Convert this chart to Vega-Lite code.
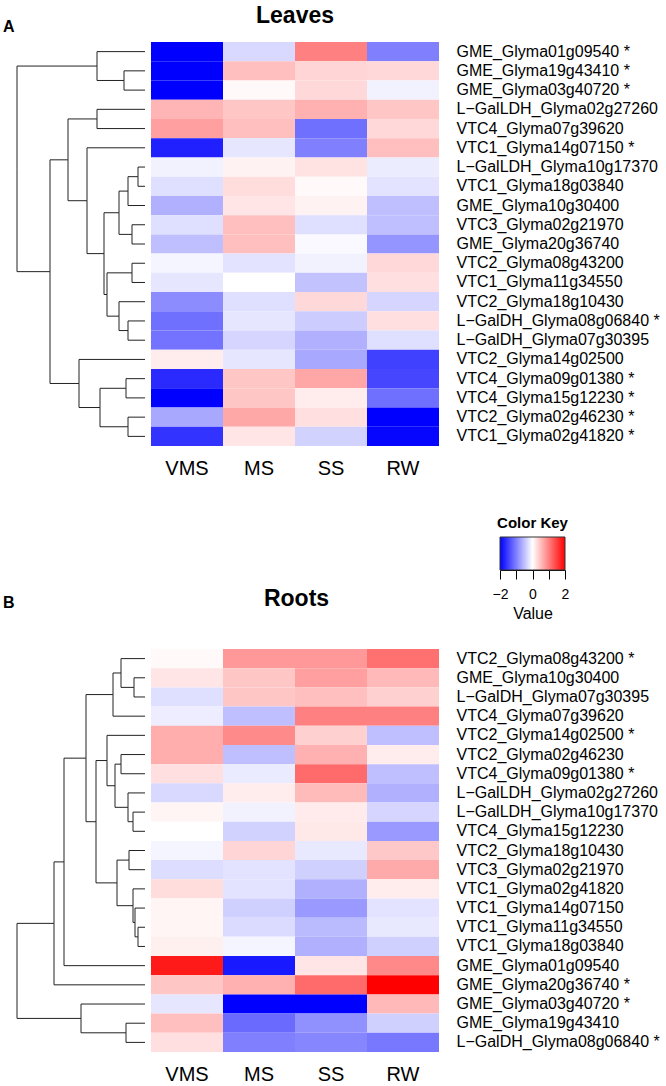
{
 "$schema": "https://vega.github.io/schema/vega-lite/v6.json",
 "padding": {"left": 3, "top": 5, "right": 2, "bottom": 2},
 "config": {"view": {"stroke": null}, "font": "Liberation Sans", "axis": {"labelColor": "#000", "titleColor": "#000", "grid": false}},
 "datasets": {
  "leaves": [
   {"g":"GME_Glyma01g09540 *","c":"VMS","v":-2},{"g":"GME_Glyma01g09540 *","c":"MS","v":-0.3},{"g":"GME_Glyma01g09540 *","c":"SS","v":1.0},{"g":"GME_Glyma01g09540 *","c":"RW","v":-1.0},
   {"g":"GME_Glyma19g43410 *","c":"VMS","v":-2},{"g":"GME_Glyma19g43410 *","c":"MS","v":0.5},{"g":"GME_Glyma19g43410 *","c":"SS","v":0.33},{"g":"GME_Glyma19g43410 *","c":"RW","v":0.3},
   {"g":"GME_Glyma03g40720 *","c":"VMS","v":-2},{"g":"GME_Glyma03g40720 *","c":"MS","v":0.05},{"g":"GME_Glyma03g40720 *","c":"SS","v":0.3},{"g":"GME_Glyma03g40720 *","c":"RW","v":-0.1},
   {"g":"L−GalLDH_Glyma02g27260","c":"VMS","v":0.58},{"g":"L−GalLDH_Glyma02g27260","c":"MS","v":0.45},{"g":"L−GalLDH_Glyma02g27260","c":"SS","v":0.62},{"g":"L−GalLDH_Glyma02g27260","c":"RW","v":0.45},
   {"g":"VTC4_Glyma07g39620","c":"VMS","v":0.75},{"g":"VTC4_Glyma07g39620","c":"MS","v":0.5},{"g":"VTC4_Glyma07g39620","c":"SS","v":-1.12},{"g":"VTC4_Glyma07g39620","c":"RW","v":0.3},
   {"g":"VTC1_Glyma14g07150 *","c":"VMS","v":-1.75},{"g":"VTC1_Glyma14g07150 *","c":"MS","v":-0.2},{"g":"VTC1_Glyma14g07150 *","c":"SS","v":-1.0},{"g":"VTC1_Glyma14g07150 *","c":"RW","v":0.5},
   {"g":"L−GalLDH_Glyma10g17370","c":"VMS","v":-0.1},{"g":"L−GalLDH_Glyma10g17370","c":"MS","v":0.1},{"g":"L−GalLDH_Glyma10g17370","c":"SS","v":0.22},{"g":"L−GalLDH_Glyma10g17370","c":"RW","v":-0.15},
   {"g":"VTC1_Glyma18g03840","c":"VMS","v":-0.25},{"g":"VTC1_Glyma18g03840","c":"MS","v":0.27},{"g":"VTC1_Glyma18g03840","c":"SS","v":0.05},{"g":"VTC1_Glyma18g03840","c":"RW","v":-0.22},
   {"g":"GME_Glyma10g30400","c":"VMS","v":-0.62},{"g":"GME_Glyma10g30400","c":"MS","v":0.2},{"g":"GME_Glyma10g30400","c":"SS","v":0.1},{"g":"GME_Glyma10g30400","c":"RW","v":-0.5},
   {"g":"VTC3_Glyma02g21970","c":"VMS","v":-0.25},{"g":"VTC3_Glyma02g21970","c":"MS","v":0.5},{"g":"VTC3_Glyma02g21970","c":"SS","v":-0.25},{"g":"VTC3_Glyma02g21970","c":"RW","v":-0.5},
   {"g":"GME_Glyma20g36740","c":"VMS","v":-0.5},{"g":"GME_Glyma20g36740","c":"MS","v":0.5},{"g":"GME_Glyma20g36740","c":"SS","v":-0.05},{"g":"GME_Glyma20g36740","c":"RW","v":-0.83},
   {"g":"VTC2_Glyma08g43200","c":"VMS","v":-0.08},{"g":"VTC2_Glyma08g43200","c":"MS","v":-0.22},{"g":"VTC2_Glyma08g43200","c":"SS","v":-0.1},{"g":"VTC2_Glyma08g43200","c":"RW","v":0.3},
   {"g":"VTC1_Glyma11g34550","c":"VMS","v":-0.2},{"g":"VTC1_Glyma11g34550","c":"MS","v":0},{"g":"VTC1_Glyma11g34550","c":"SS","v":-0.48},{"g":"VTC1_Glyma11g34550","c":"RW","v":0.25},
   {"g":"VTC2_Glyma18g10430","c":"VMS","v":-0.9},{"g":"VTC2_Glyma18g10430","c":"MS","v":-0.25},{"g":"VTC2_Glyma18g10430","c":"SS","v":0.3},{"g":"VTC2_Glyma18g10430","c":"RW","v":-0.33},
   {"g":"L−GalDH_Glyma08g06840 *","c":"VMS","v":-1.12},{"g":"L−GalDH_Glyma08g06840 *","c":"MS","v":-0.2},{"g":"L−GalDH_Glyma08g06840 *","c":"SS","v":-0.4},{"g":"L−GalDH_Glyma08g06840 *","c":"RW","v":0.25},
   {"g":"L−GalDH_Glyma07g30395","c":"VMS","v":-1.1},{"g":"L−GalDH_Glyma07g30395","c":"MS","v":-0.33},{"g":"L−GalDH_Glyma07g30395","c":"SS","v":-0.62},{"g":"L−GalDH_Glyma07g30395","c":"RW","v":-0.25},
   {"g":"VTC2_Glyma14g02500","c":"VMS","v":0.14},{"g":"VTC2_Glyma14g02500","c":"MS","v":-0.2},{"g":"VTC2_Glyma14g02500","c":"SS","v":-0.68},{"g":"VTC2_Glyma14g02500","c":"RW","v":-1.5},
   {"g":"VTC4_Glyma09g01380 *","c":"VMS","v":-1.67},{"g":"VTC4_Glyma09g01380 *","c":"MS","v":0.45},{"g":"VTC4_Glyma09g01380 *","c":"SS","v":0.7},{"g":"VTC4_Glyma09g01380 *","c":"RW","v":-1.45},
   {"g":"VTC4_Glyma15g12230 *","c":"VMS","v":-2},{"g":"VTC4_Glyma15g12230 *","c":"MS","v":0.45},{"g":"VTC4_Glyma15g12230 *","c":"SS","v":0.14},{"g":"VTC4_Glyma15g12230 *","c":"RW","v":-1.12},
   {"g":"VTC2_Glyma02g46230 *","c":"VMS","v":-0.68},{"g":"VTC2_Glyma02g46230 *","c":"MS","v":0.68},{"g":"VTC2_Glyma02g46230 *","c":"SS","v":0.25},{"g":"VTC2_Glyma02g46230 *","c":"RW","v":-2},
   {"g":"VTC1_Glyma02g41820 *","c":"VMS","v":-1.6},{"g":"VTC1_Glyma02g41820 *","c":"MS","v":0.2},{"g":"VTC1_Glyma02g41820 *","c":"SS","v":-0.35},{"g":"VTC1_Glyma02g41820 *","c":"RW","v":-1.95}
  ],
  "roots": [
   {"g":"VTC2_Glyma08g43200 *","c":"VMS","v":0.05},{"g":"VTC2_Glyma08g43200 *","c":"MS","v":0.8},{"g":"VTC2_Glyma08g43200 *","c":"SS","v":0.8},{"g":"VTC2_Glyma08g43200 *","c":"RW","v":1.12},
   {"g":"GME_Glyma10g30400","c":"VMS","v":0.2},{"g":"GME_Glyma10g30400","c":"MS","v":0.45},{"g":"GME_Glyma10g30400","c":"SS","v":0.75},{"g":"GME_Glyma10g30400","c":"RW","v":0.55},
   {"g":"L−GalDH_Glyma07g30395","c":"VMS","v":-0.25},{"g":"L−GalDH_Glyma07g30395","c":"MS","v":0.45},{"g":"L−GalDH_Glyma07g30395","c":"SS","v":0.5},{"g":"L−GalDH_Glyma07g30395","c":"RW","v":0.37},
   {"g":"VTC4_Glyma07g39620","c":"VMS","v":-0.14},{"g":"VTC4_Glyma07g39620","c":"MS","v":-0.5},{"g":"VTC4_Glyma07g39620","c":"SS","v":1.0},{"g":"VTC4_Glyma07g39620","c":"RW","v":1.0},
   {"g":"VTC2_Glyma14g02500 *","c":"VMS","v":0.64},{"g":"VTC2_Glyma14g02500 *","c":"MS","v":0.92},{"g":"VTC2_Glyma14g02500 *","c":"SS","v":0.37},{"g":"VTC2_Glyma14g02500 *","c":"RW","v":-0.5},
   {"g":"VTC2_Glyma02g46230","c":"VMS","v":0.64},{"g":"VTC2_Glyma02g46230","c":"MS","v":-0.5},{"g":"VTC2_Glyma02g46230","c":"SS","v":0.62},{"g":"VTC2_Glyma02g46230","c":"RW","v":0.14},
   {"g":"VTC4_Glyma09g01380 *","c":"VMS","v":0.25},{"g":"VTC4_Glyma09g01380 *","c":"MS","v":-0.16},{"g":"VTC4_Glyma09g01380 *","c":"SS","v":1.17},{"g":"VTC4_Glyma09g01380 *","c":"RW","v":-0.5},
   {"g":"L−GalLDH_Glyma02g27260","c":"VMS","v":-0.3},{"g":"L−GalLDH_Glyma02g27260","c":"MS","v":0.14},{"g":"L−GalLDH_Glyma02g27260","c":"SS","v":0.54},{"g":"L−GalLDH_Glyma02g27260","c":"RW","v":-0.62},
   {"g":"L−GalLDH_Glyma10g17370","c":"VMS","v":0.08},{"g":"L−GalLDH_Glyma10g17370","c":"MS","v":-0.1},{"g":"L−GalLDH_Glyma10g17370","c":"SS","v":0.16},{"g":"L−GalLDH_Glyma10g17370","c":"RW","v":-0.33},
   {"g":"VTC4_Glyma15g12230","c":"VMS","v":0},{"g":"VTC4_Glyma15g12230","c":"MS","v":-0.35},{"g":"VTC4_Glyma15g12230","c":"SS","v":0.18},{"g":"VTC4_Glyma15g12230","c":"RW","v":-0.8},
   {"g":"VTC2_Glyma18g10430","c":"VMS","v":-0.08},{"g":"VTC2_Glyma18g10430","c":"MS","v":0.33},{"g":"VTC2_Glyma18g10430","c":"SS","v":-0.18},{"g":"VTC2_Glyma18g10430","c":"RW","v":0.43},
   {"g":"VTC3_Glyma02g21970","c":"VMS","v":-0.27},{"g":"VTC3_Glyma02g21970","c":"MS","v":-0.22},{"g":"VTC3_Glyma02g21970","c":"SS","v":-0.37},{"g":"VTC3_Glyma02g21970","c":"RW","v":0.67},
   {"g":"VTC1_Glyma02g41820","c":"VMS","v":0.27},{"g":"VTC1_Glyma02g41820","c":"MS","v":-0.22},{"g":"VTC1_Glyma02g41820","c":"SS","v":-0.62},{"g":"VTC1_Glyma02g41820","c":"RW","v":0.14},
   {"g":"VTC1_Glyma14g07150","c":"VMS","v":0.08},{"g":"VTC1_Glyma14g07150","c":"MS","v":-0.37},{"g":"VTC1_Glyma14g07150","c":"SS","v":-0.8},{"g":"VTC1_Glyma14g07150","c":"RW","v":-0.22},
   {"g":"VTC1_Glyma11g34550","c":"VMS","v":0.08},{"g":"VTC1_Glyma11g34550","c":"MS","v":-0.28},{"g":"VTC1_Glyma11g34550","c":"SS","v":-0.54},{"g":"VTC1_Glyma11g34550","c":"RW","v":-0.18},
   {"g":"VTC1_Glyma18g03840","c":"VMS","v":0.12},{"g":"VTC1_Glyma18g03840","c":"MS","v":-0.08},{"g":"VTC1_Glyma18g03840","c":"SS","v":-0.62},{"g":"VTC1_Glyma18g03840","c":"RW","v":-0.37},
   {"g":"GME_Glyma01g09540","c":"VMS","v":1.8},{"g":"GME_Glyma01g09540","c":"MS","v":-1.8},{"g":"GME_Glyma01g09540","c":"SS","v":0.2},{"g":"GME_Glyma01g09540","c":"RW","v":0.93},
   {"g":"GME_Glyma20g36740 *","c":"VMS","v":0.45},{"g":"GME_Glyma20g36740 *","c":"MS","v":0.62},{"g":"GME_Glyma20g36740 *","c":"SS","v":1.17},{"g":"GME_Glyma20g36740 *","c":"RW","v":2.0},
   {"g":"GME_Glyma03g40720 *","c":"VMS","v":-0.2},{"g":"GME_Glyma03g40720 *","c":"MS","v":-2},{"g":"GME_Glyma03g40720 *","c":"SS","v":-2},{"g":"GME_Glyma03g40720 *","c":"RW","v":0.55},
   {"g":"GME_Glyma19g43410","c":"VMS","v":0.5},{"g":"GME_Glyma19g43410","c":"MS","v":-1.17},{"g":"GME_Glyma19g43410","c":"SS","v":-0.87},{"g":"GME_Glyma19g43410","c":"RW","v":-0.37},
   {"g":"L−GalDH_Glyma08g06840 *","c":"VMS","v":0.25},{"g":"L−GalDH_Glyma08g06840 *","c":"MS","v":-1.0},{"g":"L−GalDH_Glyma08g06840 *","c":"SS","v":-0.95},{"g":"L−GalDH_Glyma08g06840 *","c":"RW","v":-1.06}
  ],
  "leafTree": [
   {"h":0,"ph":21,"r":1,"pr":1.5},{"h":0,"ph":21,"r":2,"pr":1.5},
   {"h":0,"ph":48,"r":0,"pr":0.75},{"h":21,"ph":48,"r":1.5,"pr":0.75},
   {"h":0,"ph":48,"r":3,"pr":3.5},{"h":0,"ph":48,"r":4,"pr":3.5},
   {"h":0,"ph":7,"r":6,"pr":6.5},{"h":0,"ph":7,"r":7,"pr":6.5},
   {"h":7,"ph":17,"r":6.5,"pr":7.25},{"h":0,"ph":17,"r":8,"pr":7.25},
   {"h":0,"ph":13,"r":9,"pr":9.5},{"h":0,"ph":13,"r":10,"pr":9.5},
   {"h":17,"ph":26,"r":7.25,"pr":8.375},{"h":13,"ph":26,"r":9.5,"pr":8.375},
   {"h":0,"ph":13,"r":11,"pr":11.5},{"h":0,"ph":13,"r":12,"pr":11.5},
   {"h":0,"ph":17,"r":14,"pr":14.5},{"h":0,"ph":17,"r":15,"pr":14.5},
   {"h":0,"ph":26,"r":13,"pr":13.75},{"h":17,"ph":26,"r":14.5,"pr":13.75},
   {"h":13,"ph":38,"r":11.5,"pr":12.625},{"h":26,"ph":38,"r":13.75,"pr":12.625},
   {"h":26,"ph":41,"r":8.375,"pr":10.5},{"h":38,"ph":41,"r":12.625,"pr":10.5},
   {"h":0,"ph":58,"r":5,"pr":7.75},{"h":41,"ph":58,"r":10.5,"pr":7.75},
   {"h":48,"ph":77,"r":3.5,"pr":5.625},{"h":58,"ph":77,"r":7.75,"pr":5.625},
   {"h":0,"ph":19,"r":17,"pr":17.5},{"h":0,"ph":19,"r":18,"pr":17.5},
   {"h":0,"ph":17,"r":19,"pr":19.5},{"h":0,"ph":17,"r":20,"pr":19.5},
   {"h":19,"ph":45,"r":17.5,"pr":18.5},{"h":17,"ph":45,"r":19.5,"pr":18.5},
   {"h":0,"ph":66,"r":16,"pr":17.25},{"h":45,"ph":66,"r":18.5,"pr":17.25},
   {"h":77,"ph":95,"r":5.625,"pr":11.4375},{"h":66,"ph":95,"r":17.25,"pr":11.4375},
   {"h":48,"ph":128,"r":0.75,"pr":6.09375},{"h":95,"ph":128,"r":11.4375,"pr":6.09375}
  ],
  "rootTree": [
   {"h":0,"ph":11,"r":1,"pr":1.5},{"h":0,"ph":11,"r":2,"pr":1.5},
   {"h":0,"ph":24,"r":0,"pr":0.75},{"h":11,"ph":24,"r":1.5,"pr":0.75},
   {"h":24,"ph":32,"r":0.75,"pr":1.875},{"h":0,"ph":32,"r":3,"pr":1.875},
   {"h":0,"ph":24,"r":5,"pr":5.5},{"h":0,"ph":24,"r":6,"pr":5.5},
   {"h":0,"ph":12,"r":8,"pr":8.5},{"h":0,"ph":12,"r":9,"pr":8.5},
   {"h":0,"ph":17,"r":7,"pr":7.75},{"h":12,"ph":17,"r":8.5,"pr":7.75},
   {"h":24,"ph":30,"r":5.5,"pr":6.625},{"h":17,"ph":30,"r":7.75,"pr":6.625},
   {"h":0,"ph":38,"r":4,"pr":5.3125},{"h":30,"ph":38,"r":6.625,"pr":5.3125},
   {"h":0,"ph":16,"r":10,"pr":10.5},{"h":0,"ph":16,"r":11,"pr":10.5},
   {"h":0,"ph":7,"r":14,"pr":14.5},{"h":0,"ph":7,"r":15,"pr":14.5},
   {"h":0,"ph":10,"r":13,"pr":13.75},{"h":7,"ph":10,"r":14.5,"pr":13.75},
   {"h":0,"ph":12,"r":12,"pr":12.875},{"h":10,"ph":12,"r":13.75,"pr":12.875},
   {"h":16,"ph":28,"r":10.5,"pr":11.6875},{"h":12,"ph":28,"r":12.875,"pr":11.6875},
   {"h":38,"ph":49,"r":5.3125,"pr":8.5},{"h":28,"ph":49,"r":11.6875,"pr":8.5},
   {"h":32,"ph":59,"r":1.875,"pr":5.1875},{"h":49,"ph":59,"r":8.5,"pr":5.1875},
   {"h":59,"ph":81,"r":5.1875,"pr":10.59375},{"h":0,"ph":81,"r":16,"pr":10.59375},
   {"h":81,"ph":91,"r":10.59375,"pr":13.796875},{"h":0,"ph":91,"r":17,"pr":13.796875},
   {"h":0,"ph":19,"r":19,"pr":19.5},{"h":0,"ph":19,"r":20,"pr":19.5},
   {"h":0,"ph":64,"r":18,"pr":18.75},{"h":19,"ph":64,"r":19.5,"pr":18.75},
   {"h":91,"ph":128,"r":13.796875,"pr":16.2734375},{"h":64,"ph":128,"r":18.75,"pr":16.2734375}
  ]
 },
 "spacing": 37,
 "vconcat": [
  {
   "spacing": 5,
   "hconcat": [
    {
     "width": 142, "height": 404,
     "title": {"text": "A", "anchor": "start", "frame": "group", "fontSize": 16, "fontWeight": "bold", "offset": 7},
     "data": {"name": "leafTree"},
     "layer": [
      {"mark": {"type": "rule", "color": "#222", "strokeWidth": 1},
       "encoding": {
        "x": {"field": "h", "type": "quantitative", "scale": {"domain": [0, 142], "reverse": true, "nice": false, "zero": false}, "axis": null},
        "x2": {"field": "ph"},
        "y": {"field": "r", "type": "quantitative", "scale": {"domain": [-0.5, 20.5], "reverse": true, "nice": false, "zero": false}, "axis": null}}},
      {"mark": {"type": "rule", "color": "#222", "strokeWidth": 1},
       "encoding": {
        "x": {"field": "ph", "type": "quantitative", "scale": {"domain": [0, 142], "reverse": true, "nice": false, "zero": false}, "axis": null},
        "y": {"field": "r", "type": "quantitative", "scale": {"domain": [-0.5, 20.5], "reverse": true, "nice": false, "zero": false}, "axis": null},
        "y2": {"field": "pr"}}}
     ]
    },
    {
     "width": 288, "height": 404,
     "title": {"text": "Leaves", "anchor": "middle", "frame": "group", "fontSize": 23, "fontWeight": "bold", "offset": 14},
     "data": {"name": "leaves"},
     "mark": {"type": "rect"},
     "encoding": {
      "x": {"field": "c", "type": "nominal", "sort": ["VMS", "MS", "SS", "RW"], "scale": {"paddingInner": 0, "paddingOuter": 0},
            "axis": {"orient": "bottom", "title": null, "labelAngle": 0, "ticks": false, "tickSize": 0, "domain": false, "labelFontSize": 20, "labelPadding": 12}},
      "y": {"field": "g", "type": "nominal", "sort": null, "scale": {"paddingInner": 0, "paddingOuter": 0},
            "axis": {"orient": "right", "title": null, "ticks": false, "tickSize": 0, "domain": false, "labelFontSize": 16, "labelPadding": 17, "labelLimit": 0}},
      "color": {"field": "v", "type": "quantitative", "scale": {"domain": [-2, 0, 2], "range": ["#0000ff", "#ffffff", "#ff0000"], "interpolate": "rgb", "clamp": true}, "legend": null}
     }
    }
   ]
  },
  {
   "spacing": 28,
   "vconcat": [
    {
     "spacing": 5,
     "hconcat": [
      {
       "width": 142, "height": 30,
       "data": {"values": [{}]},
       "mark": {"type": "text"},
       "encoding": {"text": {"value": ""}},
       "title": {"text": "B", "orient": "bottom", "anchor": "start", "frame": "group", "fontSize": 16, "fontWeight": "bold", "offset": 28}
      },
      {
       "width": 337, "height": 30,
       "data": {"values": [{}]},
       "mark": {"type": "text"},
       "encoding": {"text": {"value": ""}},
       "title": {"text": "Roots", "orient": "bottom", "anchor": "middle", "frame": "group", "fontSize": 23, "fontWeight": "bold", "offset": 21, "dx": -22}
      },
      {
       "width": 65, "height": 33,
       "title": {"text": "Color Key", "anchor": "middle", "frame": "group", "fontSize": 15, "fontWeight": "bold", "offset": 6},
       "data": {"values": [{"lo": -2, "hi": 2}]},
       "mark": {"type": "rect", "fill": {"gradient": "linear", "x1": 0, "y1": 0, "x2": 1, "y2": 0, "stops": [{"offset": 0, "color": "#0000ff"}, {"offset": 0.5, "color": "#ffffff"}, {"offset": 1, "color": "#ff0000"}]}, "stroke": "#333", "strokeWidth": 1},
       "encoding": {
        "x": {"field": "lo", "type": "quantitative", "scale": {"domain": [-2, 2], "nice": false, "zero": false},
              "axis": {"values": [-2, -1, 0, 1, 2], "tickSize": 9, "tickColor": "#000", "domainColor": "#000", "labelFontSize": 14, "labelPadding": 8, "labelFlush": false, "labelExpr": "datum.value % 2 == 0 ? datum.label : ''", "title": "Value", "titleFontSize": 16, "titleFontWeight": "normal", "titlePadding": 4}},
        "x2": {"field": "hi"}
       }
      }
     ]
    },
    {
     "spacing": 5,
     "hconcat": [
      {
       "width": 142, "height": 403,
       "data": {"name": "rootTree"},
       "layer": [
        {"mark": {"type": "rule", "color": "#222", "strokeWidth": 1},
         "encoding": {
          "x": {"field": "h", "type": "quantitative", "scale": {"domain": [0, 142], "reverse": true, "nice": false, "zero": false}, "axis": null},
          "x2": {"field": "ph"},
          "y": {"field": "r", "type": "quantitative", "scale": {"domain": [-0.5, 20.5], "reverse": true, "nice": false, "zero": false}, "axis": null}}},
        {"mark": {"type": "rule", "color": "#222", "strokeWidth": 1},
         "encoding": {
          "x": {"field": "ph", "type": "quantitative", "scale": {"domain": [0, 142], "reverse": true, "nice": false, "zero": false}, "axis": null},
          "y": {"field": "r", "type": "quantitative", "scale": {"domain": [-0.5, 20.5], "reverse": true, "nice": false, "zero": false}, "axis": null},
          "y2": {"field": "pr"}}}
       ]
      },
      {
       "width": 288, "height": 403,
       "data": {"name": "roots"},
       "mark": {"type": "rect"},
       "encoding": {
        "x": {"field": "c", "type": "nominal", "sort": ["VMS", "MS", "SS", "RW"], "scale": {"paddingInner": 0, "paddingOuter": 0},
              "axis": {"orient": "bottom", "title": null, "labelAngle": 0, "ticks": false, "tickSize": 0, "domain": false, "labelFontSize": 20, "labelPadding": 12}},
        "y": {"field": "g", "type": "nominal", "sort": null, "scale": {"paddingInner": 0, "paddingOuter": 0},
              "axis": {"orient": "right", "title": null, "ticks": false, "tickSize": 0, "domain": false, "labelFontSize": 16, "labelPadding": 17, "labelLimit": 0}},
        "color": {"field": "v", "type": "quantitative", "scale": {"domain": [-2, 0, 2], "range": ["#0000ff", "#ffffff", "#ff0000"], "interpolate": "rgb", "clamp": true}, "legend": null}
       }
      }
     ]
    }
   ]
  }
 ]
}
